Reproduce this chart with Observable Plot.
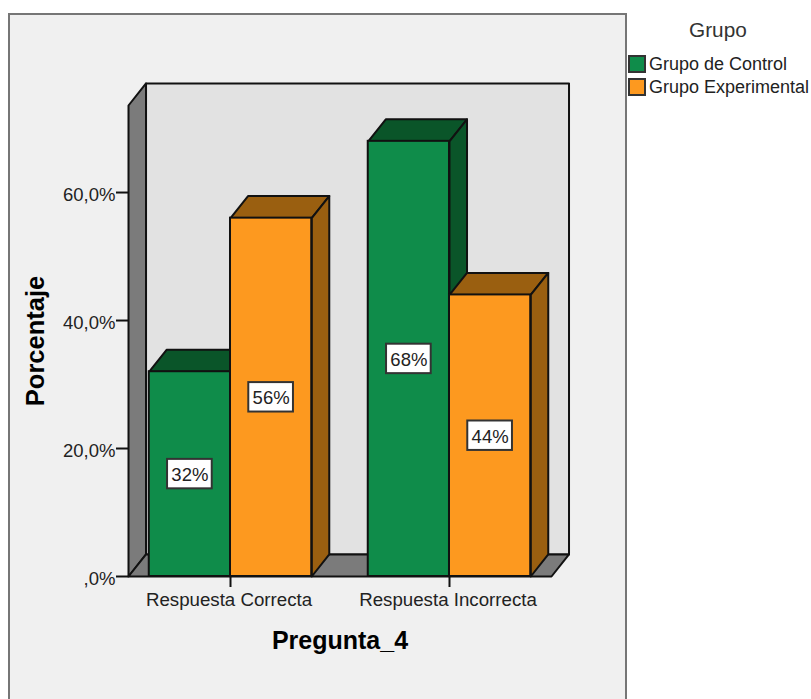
<!DOCTYPE html>
<html>
<head>
<meta charset="utf-8">
<script src="https://cdn.jsdelivr.net/npm/d3@7"></script>
<script src="https://cdn.jsdelivr.net/npm/@observablehq/plot@0.6"></script>
<style>
  html, body { margin: 0; padding: 0; background: #fff; }
  #page { position: relative; width: 811px; height: 699px; overflow: hidden; font-family: "Liberation Sans", Arial, sans-serif; color: #222; }
  #panel { position: absolute; left: 8px; top: 13px; width: 615px; height: 720px; background: #f0f0f0; border: 2px solid #767676; }
  #chart { position: absolute; left: 0; top: 0; }
  #chart svg { background: none; }
  .legend-title { position: absolute; left: 689px; top: 18px; font-size: 20.8px; line-height: 24px; color: #333; }
  .legend-row { position: absolute; left: 628px; display: flex; align-items: center; height: 19px; font-size: 18px; white-space: nowrap; }
  .legend-row i { display: block; box-sizing: border-box; width: 18px; height: 18px; margin-right: 3px; border: 2px solid #333; }
  .legend-row span { position: relative; top: 1px; }
</style>
</head>
<body>
<div id="page">
  <div id="panel"></div>
  <div id="chart"></div>
</div>
<script>
// Porcentaje de respuestas por grupo, pregunta 4
const categories = ["Respuesta Correcta", "Respuesta Incorrecta"];
const groups = ["Grupo de Control", "Grupo Experimental"];
const control = [32, 68];
const experimental = [56, 44];
const yTicks = [0, 20, 40, 60];

const frontColors = ["#0f8c4a", "#fd991f"];
const shadeColors = ["#0a5529", "#9a5f10"];

// Extent of the pseudo-3D box, in scale units
const xMin = -0.4658, xMax = 1.4658, yTop = 73.6;
const depthX = 0.08, depthY = 3.44;
const barWidth = 0.371;

const ink = "#111";
const lineWidth = 2;
const face = (points, fill) => Plot.line([...points, points[0]], {
  x: p => p[0], y: p => p[1], fill, stroke: ink, strokeWidth: lineWidth, strokeLinejoin: "round"
});

// Walls and floor of the box
const walls = [
  face([[xMin + depthX, depthY], [xMax + depthX, depthY], [xMax + depthX, yTop + depthY], [xMin + depthX, yTop + depthY]], "#e2e2e2"),
  face([[xMin, 0], [xMin + depthX, depthY], [xMin + depthX, yTop + depthY], [xMin, yTop]], "#7b7b7b"),
  face([[xMin, 0], [xMax, 0], [xMax + depthX, depthY], [xMin + depthX, depthY]], "#7b7b7b")
];

// One extruded bar: top, side, then front face
const bar = (value, catIndex, groupIndex) => {
  const x1 = catIndex + (groupIndex - 1) * barWidth;
  const x2 = x1 + barWidth;
  const shade = shadeColors[groupIndex];
  return [
    face([[x1, value], [x2, value], [x2 + depthX, value + depthY], [x1 + depthX, value + depthY]], shade),
    face([[x2, 0], [x2 + depthX, depthY], [x2 + depthX, value + depthY], [x2, value]], shade),
    Plot.rect([value], {
      x1: () => x1, x2: () => x2, y1: () => 0, y2: d => d,
      fill: frontColors[groupIndex], stroke: ink, strokeWidth: lineWidth
    })
  ];
};

const series = [control, experimental];
const bars = [];
const labelRows = [];
categories.forEach((_, c) => series.forEach((values, g) => {
  bars.push(...bar(values[c], c, g));
  labelRows.push({ x: c + (g - 0.5) * barWidth, value: values[c] });
}));

const chart = Plot.plot({
  width: 811,
  height: 699,
  marginLeft: 128,
  marginRight: 260,
  marginTop: 105,
  marginBottom: 123,
  style: { fontFamily: "'Liberation Sans', Arial, sans-serif", color: "#222", background: "none" },
  x: { domain: [xMin, xMax] },
  y: { domain: [0, yTop] },
  marks: [
    ...walls,
    ...bars,
    Plot.rect(labelRows, {
      x1: d => d.x - 0.102, x2: d => d.x + 0.102,
      y1: d => d.value / 2 - 2.3, y2: d => d.value / 2 + 2.3,
      fill: "#fff", stroke: "#333", strokeWidth: lineWidth
    }),
    Plot.text(labelRows, {
      x: "x", y: d => d.value / 2, text: d => `${d.value}%`,
      fontSize: 18.5, fill: "#222", dy: 1
    }),
    // Tick strokes and tick labels are separate so the labels can sit slightly low
    Plot.axisY({
      ticks: yTicks, tickSize: 12, label: null, stroke: ink, strokeWidth: lineWidth, tickFormat: () => ""
    }),
    Plot.axisY({
      ticks: yTicks, tickSize: 0, tickPadding: 13, fontSize: 18.5, label: null, dy: 3,
      tickFormat: d => d === 0 ? ",0%" : `${d},0%`
    }),
    Plot.axisX({
      ticks: [0, 1], tickSize: 11, label: null, stroke: ink, strokeWidth: lineWidth, tickFormat: () => ""
    }),
    Plot.axisX({
      ticks: [0, 1], tickSize: 0, tickPadding: 16, fontSize: 18.7, label: null, dx: -1.5,
      tickFormat: d => categories[d]
    }),
    Plot.text(["Pregunta_4"], {
      x: () => 0.5, y: () => 0, dy: 64, text: d => d, fontSize: 25, fontWeight: "bold", fill: "#000"
    }),
    Plot.text(["Porcentaje"], {
      x: () => xMin, y: () => yTop / 2, dx: -93, text: d => d, rotate: -90, fontSize: 25.5, fontWeight: "bold", fill: "#000"
    })
  ]
});
document.getElementById("chart").append(chart);

// Legend to the right of the panel
const page = document.getElementById("page");
const title = document.createElement("div");
title.className = "legend-title";
title.textContent = "Grupo";
page.append(title);
groups.forEach((name, i) => {
  const row = document.createElement("div");
  row.className = "legend-row";
  row.style.top = `${54 + i * 23}px`;
  const swatch = document.createElement("i");
  swatch.style.background = frontColors[i];
  const label = document.createElement("span");
  label.textContent = name;
  row.append(swatch, label);
  page.append(row);
});
</script>
</body>
</html>
